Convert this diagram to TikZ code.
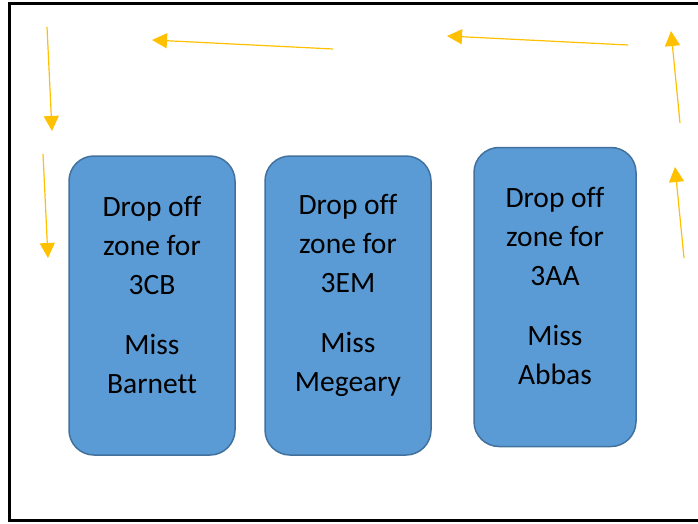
\documentclass[tikz,border=0pt]{standalone}
\usepackage{fontspec}
\setmainfont[Ligatures=NoCommon]{Carlito}
\usetikzlibrary{arrows.meta}
\definecolor{zonefill}{HTML}{5B9BD5}
\definecolor{zoneline}{HTML}{41719C}
\definecolor{wayarrow}{HTML}{FFC000}
\tikzset{
  zone_box/.style = {rectangle, rounded corners=25pt, fill=zonefill,
    draw=zoneline, line width=1.5pt, minimum width=166pt,
    minimum height=299pt, inner sep=0pt},% drop off zone
  zone_txt/.style = {align=center, inner sep=0pt,
    font=\fontsize{29.5}{39}\selectfont},% zone label
  way_arr/.style = {draw=wayarrow, line width=1.2pt,
    -{Triangle[width=15pt,length=15pt]}}% one way arrow
}

\begin{document}
\begin{tikzpicture}[x=1pt,y=-1pt]
    \clip (0,0) rectangle (698,524);
    % frame
    \draw[line width=3pt] (705,4) -- (9,4) -- (9,520) -- (705,520);
    % zones
    \node [zone_box] (zone_cb) at (152,305.5) {};
    \node [zone_box] (zone_em) at (348,305.5) {};
    \node [zone_box, minimum width=162pt] (zone_aa) at (555,297) {};
    \node [zone_txt] (txt_cb) at ([yshift=11pt]zone_cb.center)
        {Drop off\\zone for\\3CB\\[21pt]Miss\\Barnett};
    \node [zone_txt] (txt_em) at ([yshift=10pt]zone_em.center)
        {Drop off\\zone for\\3EM\\[21pt]Miss\\Megeary};
    \node [zone_txt] (txt_aa) at ([yshift=11pt]zone_aa.center)
        {Drop off\\zone for\\3AA\\[21pt]Miss\\Abbas};
    % arrows
    \coordinate (l1s) at (47,27);   \coordinate (l1e) at (52,131);
    \coordinate (l2s) at (43,154);  \coordinate (l2e) at (48,258);
    \coordinate (t1s) at (333,49);  \coordinate (t1e) at (152,40);
    \coordinate (t2s) at (628,45);  \coordinate (t2e) at (447,36);
    \coordinate (r1s) at (680,123); \coordinate (r1e) at (671,31);
    \coordinate (r2s) at (684,258); \coordinate (r2e) at (675,167);
    \draw [way_arr] (l1s) -- (l1e);
    \draw [way_arr] (l2s) -- (l2e);
    \draw [way_arr] (t1s) -- (t1e);
    \draw [way_arr] (t2s) -- (t2e);
    \draw [way_arr] (r1s) -- (r1e);
    \draw [way_arr] (r2s) -- (r2e);
\end{tikzpicture}
\end{document}
